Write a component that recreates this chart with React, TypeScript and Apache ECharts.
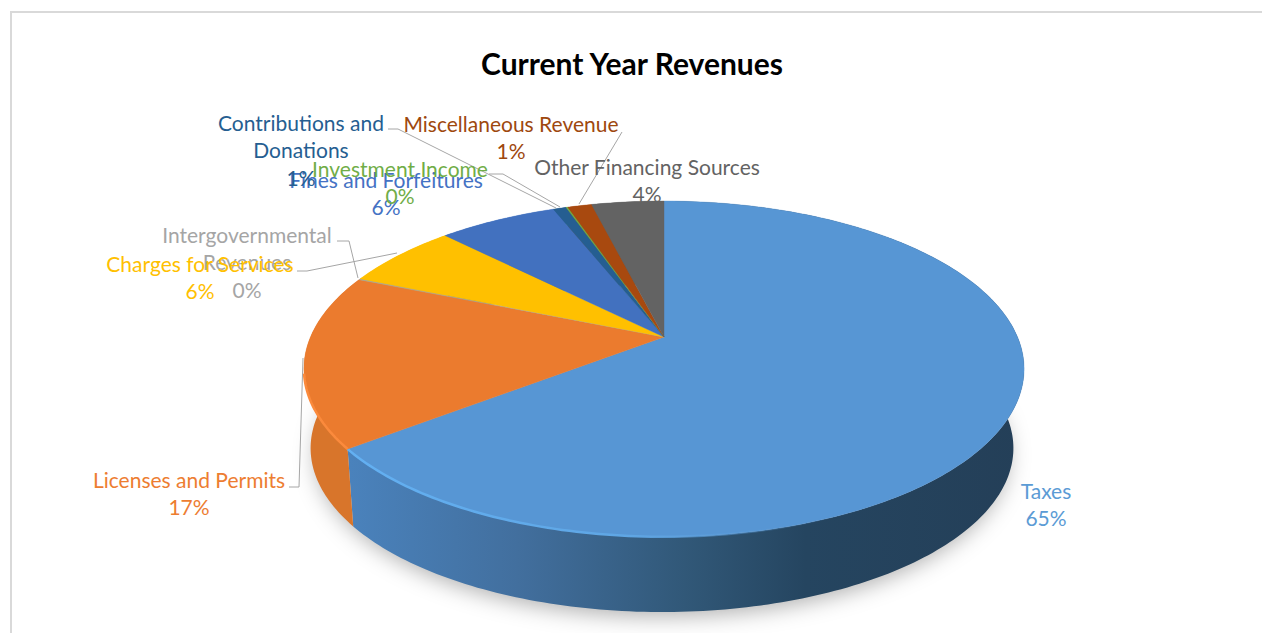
import React, { useEffect, useRef } from "react";
import * as echarts from "echarts";

const categories = ["Taxes", "Licenses and Permits", "Intergovernmental Revenues", "Charges for Services", "Fines and Forfeitures", "Contributions and Donations", "Investment Income", "Miscellaneous Revenue", "Other Financing Sources"];
const revenueShares = [64.52, 16.68, 0.1, 6.3, 6.4, 0.7, 0.1, 1.3, 3.9];
const sliceColors = ["#5796D4", "#EB7B2E", "#A5A5A5", "#FFC000", "#4271BF", "#255E91", "#70AD47", "#A8490F", "#636363"];
const labelLines = [["Taxes"], ["Licenses and Permits"], ["Intergovernmental", "Revenues"], ["Charges for Services"], ["Fines and Forfeitures"], ["Contributions and", "Donations"], ["Investment Income"], ["Miscellaneous Revenue"], ["Other Financing Sources"]];
const labelColors = ["#5B9BD5", "#ED7D31", "#A5A5A5", "#FFC000", "#4472C4", "#255E91", "#70AD47", "#9E480E", "#636363"];

// layout
const labelCenters = [[1046, 490], [189, 479], [247, 234], [200, 263], [386, 179], [301, 122], [400, 168], [511, 123], [647, 166]];
const leaderLines = [
  [[289, 487], [299, 487], [303, 358]],
  [[337, 241], [349, 241], [358, 278]],
  [[297, 271], [307, 271], [397, 253]],
  [[388, 129], [398, 129], [556, 208]],
  [[489, 174], [503, 174], [560, 207]],
  [[622, 132], [579, 204]],
];
const FONT = "Lato";
const LABEL_SIZE = 21;
const LINE_H = 27.5;
const K = 0.19;
const TOP = { cx: 664, cy: 337, rx: 353.5, ry: 161.8 };
const BOTTOM = { cx: 662, cy: 417, rx: 345, ry: 158 };

function project(f: number, e: { cx: number; cy: number; rx: number; ry: number }) {
  const a = 2 * Math.PI * f;
  const u = Math.sin(a);
  const v = -Math.cos(a);
  const w = 1 - K * v;
  return [e.cx + (e.rx * u) / w, e.cy + (e.ry * v) / w];
}
function arc(s: number, e: number, ell: typeof TOP) {
  const n = Math.max(2, Math.ceil((e - s) * 360));
  const pts: number[][] = [];
  for (let i = 0; i <= n; i++) pts.push(project(s + ((e - s) * i) / n, ell));
  return pts;
}

const total = revenueShares.reduce((a, b) => a + b, 0);
let running = 0;
const sliceRows = revenueShares.map((v) => {
  const row = [running / total, (running + v) / total];
  running += v;
  return row;
});

export default function App() {
  const ref = useRef<HTMLDivElement>(null);
  useEffect(() => {
    document.body.style.margin = "0";
    const chart = echarts.init(ref.current!, null, { renderer: "svg" });
    const G = echarts.graphic.LinearGradient as any;
    const taxesWall = new G(350, 0, 1020, 0, [
      { offset: 0, color: "#4A82BC" },
      { offset: 0.25, color: "#426F9E" },
      { offset: 0.5, color: "#315878" },
      { offset: 0.68, color: "#254560" },
      { offset: 1, color: "#243F58" },
    ], true);
    const taxesRim = new G(350, 0, 820, 0, [
      { offset: 0, color: "#63B0F2" },
      { offset: 0.6, color: "#5FA6E4" },
      { offset: 1, color: "rgba(87,150,212,0)" },
    ], true);
    const texts: any[] = [];
    categories.forEach((_, i) => {
      const [x, y] = labelCenters[i];
      const lines = [...labelLines[i], `${Math.round((revenueShares[i] / total) * 100)}%`];
      lines.forEach((t, j) => {
        texts.push({
          type: "text",
          x,
          y: y + j * LINE_H,
          z: 20,
          style: { text: t, fill: labelColors[i], font: `${LABEL_SIZE}px ${FONT}`, textAlign: "center", textVerticalAlign: "middle" },
        });
      });
    });
    chart.setOption({
      animation: false,
      backgroundColor: "#fff",
      graphic: [
        { type: "polyline", z: 0, shape: { points: [[11, 633], [11, 12], [1262, 12]] }, style: { stroke: "#D9D9D9", lineWidth: 2, fill: "none" } },
        { type: "text", x: 632, y: 63, z: 20, style: { text: "Current Year Revenues", fill: "#000", font: `bold 30px ${FONT}`, textAlign: "center", textVerticalAlign: "middle" } },
        { type: "ellipse", z: 0, shape: { cx: 662, cy: 449, rx: 346, ry: 161 }, style: { fill: "#ddd", shadowBlur: 22, shadowOffsetY: 6, shadowColor: "rgba(0,0,0,0.32)" } },
        ...leaderLines.map((pts) => ({ type: "polyline", z: 15, shape: { points: pts }, style: { stroke: "#A6A6A6", lineWidth: 1, fill: "none" } })),
        ...texts,
      ],
      series: [
        {
          type: "custom",
          coordinateSystem: "none",
          z: 5,
          data: sliceRows,
          renderItem: (p: any, api: any) => {
            const s = api.value(0), e = api.value(1);
            const fill = p.dataIndex === 0 ? taxesWall : p.dataIndex === 1 ? "#D8752B" : sliceColors[p.dataIndex];
            const pts = [...arc(s, e, TOP), ...arc(s, e, BOTTOM).reverse()];
            return { type: "polygon", shape: { points: pts }, style: { fill } };
          },
        },
        {
          type: "custom",
          coordinateSystem: "none",
          z: 6,
          data: sliceRows,
          renderItem: (p: any, api: any) => {
            const s = api.value(0), e = api.value(1);
            const i = p.dataIndex;
            const boundary = arc(s, e, TOP);
            const children: any[] = [
              { type: "polygon", shape: { points: [[TOP.cx, TOP.cy], ...boundary] }, style: { fill: sliceColors[i], stroke: sliceColors[i], lineWidth: 0.4 } },
            ];
            if (i === 0) {
              children.push({ type: "polyline", shape: { points: arc(0.4, e, TOP) }, style: { fill: "none", stroke: taxesRim, lineWidth: 2.5 } });
            }
            if (i === 1) {
              children.push({ type: "polyline", shape: { points: arc(s, s + 0.07, TOP) }, style: { fill: "none", stroke: "#FB8A3C", lineWidth: 2.5 } });
            }
            return { type: "group", children };
          },
        },
      ],
    });
    return () => chart.dispose();
  }, []);
  return <div ref={ref} style={{ position: "fixed", left: 0, top: 0, width: 1262, height: 633 }} />;
}
